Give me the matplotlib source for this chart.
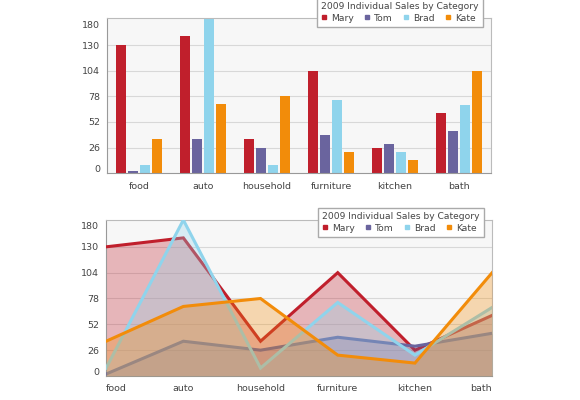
import numpy as np
import matplotlib
matplotlib.use('Agg')
import matplotlib.pyplot as plt
from matplotlib.lines import Line2D

categories = ['food', 'auto', 'household', 'furniture', 'kitchen', 'bath']
names = ['Mary', 'Tom', 'Brad', 'Kate']
mary = [130, 139, 35, 104, 26, 61]
tom = [2, 35, 26, 39, 30, 43]
brad = [8, 157, 8, 74, 21, 69]
kate = [35, 70, 78, 21, 13, 104]
colors = ['#c01f2c', '#6a649e', '#8fd4ec', '#f28c0a']

y_labels = ['0', '26', '52', '78', '104', '130', '180']
y_label_pos = [5, 26, 52, 78, 104, 130, 151]
grid_vals = [26, 52, 78, 104, 130]
title = '2009 Individual Sales by Category'

series = [mary, tom, brad, kate]
text_col = '#444444'
frame_col = '#999999'


def style_axes(ax):
  ax.set_facecolor('#f7f7f7')
  for s in ax.spines.values():
    s.set_color(frame_col)
    s.set_linewidth(0.8)
  ax.spines['top'].set_color('#bbbbbb')
  ax.spines['right'].set_color('#bbbbbb')
  for g in grid_vals:
    ax.axhline(g, color='#d8d8d8', lw=0.8, zorder=0)
  ax.set_ylim(0, 157)
  ax.set_yticks(y_label_pos)
  ax.set_yticklabels(y_labels)
  ax.tick_params(length=0, labelsize=6.8, labelcolor=text_col, pad=5)


def add_legend(ax, y_anchor):
  handles = [Line2D([], [], marker='s', ls='', color=c, markersize=3.5) for c in colors]
  leg = ax.legend(handles, names, title=title, ncol=4, loc='upper right',
                  bbox_to_anchor=(0.99, y_anchor), fontsize=6.6,
                  title_fontproperties={'size': 6.6}, alignment='left',
                  handlelength=0.7, handletextpad=0.4, columnspacing=1.1,
                  handleheight=1.1, borderpad=0.45, labelspacing=0.2,
                  frameon=True, fancybox=False, framealpha=1.0,
                  edgecolor='#aaaaaa')
  leg.get_frame().set_linewidth(1.0)
  leg.get_title().set_color(text_col)
  for t in leg.get_texts():
    t.set_color(text_col)
  leg.set_zorder(10)
  return leg


fig = plt.figure(figsize=(5.8, 4.0), dpi=100)
fig.patch.set_facecolor('white')

# bar chart
ax1 = fig.add_axes([0.1845, 0.567, 0.662, 0.387])
style_axes(ax1)
x = np.arange(len(categories))
step = 0.19
for i, (vals, c) in enumerate(zip(series, colors)):
  ax1.bar(x + (i - 1.5) * step, vals, width=0.16, color=c, zorder=2)
ax1.set_xlim(-0.5, len(categories) - 0.5)
ax1.set_xticks(x)
ax1.set_xticklabels(categories)
ax1.tick_params(axis='x', pad=6)
add_legend(ax1, 1.16)

# area / line chart, each series fill + line stacked in order
ax2 = fig.add_axes([0.183, 0.06, 0.6655, 0.39])
style_axes(ax2)
for i, (vals, c) in enumerate(zip(series, colors)):
  ax2.fill_between(x, 0, vals, color=c, alpha=0.3, lw=0, zorder=2 + 2 * i)
  ax2.plot(x, vals, color=c, lw=2.2, zorder=3 + 2 * i, solid_joinstyle='miter')
ax2.set_xlim(0, len(categories) - 1)
ax2.set_xticks(x)
ax2.set_xticklabels(categories)
ax2.tick_params(axis='x', pad=6)
xl = ax2.get_xticklabels()
xl[0].set_ha('left')
xl[-1].set_ha('right')
add_legend(ax2, 1.105)

fig.savefig('out.png', dpi=100)
